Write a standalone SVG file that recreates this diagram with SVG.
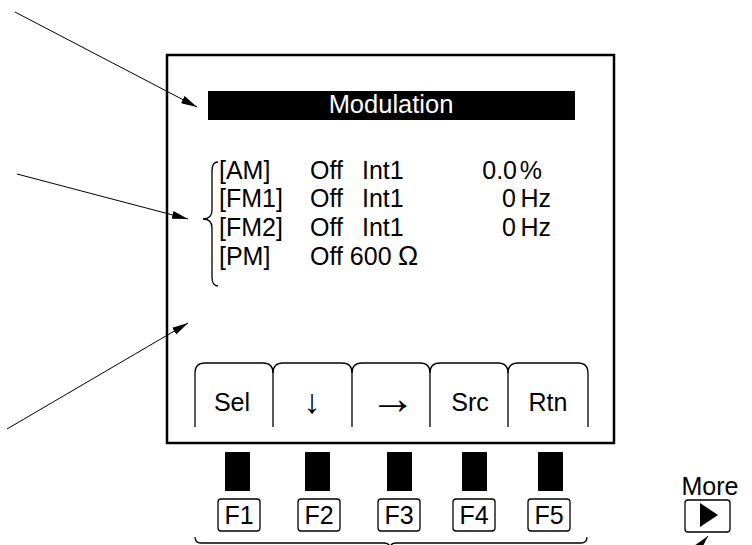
<svg xmlns="http://www.w3.org/2000/svg" width="752" height="545" viewBox="0 0 752 545">
<defs>
<style>
.t{font-family:"Liberation Sans","DejaVu Sans",Arial,sans-serif;font-size:25px;fill:#000}
.frame{fill:none;stroke:#000;stroke-width:2.5}
.ln{fill:none;stroke:#000;stroke-width:1.3}
.thin{fill:none;stroke:#000;stroke-width:1}
.key{fill:#fff;stroke:#000;stroke-width:1.3}
</style>
<marker id="ah" viewBox="0 0 16 8" refX="16" refY="4" markerWidth="16" markerHeight="8" markerUnits="userSpaceOnUse" orient="auto">
<path d="M0,0 L16,4 L0,8 Z" fill="#000"/>
</marker>
</defs>
<rect width="752" height="545" fill="#fff"/>

<g id="screen">
<rect class="frame" x="167" y="55" width="447" height="388"/>
</g>

<g id="title">
<rect x="208" y="91" width="367" height="29" fill="#000"/>
<text class="t" x="391" y="113" text-anchor="middle" style="fill:#fff;font-size:25.5px">Modulation</text>
</g>

<g id="params">
<path class="ln" d="M218,162 Q212,162 212,171 L212,210 Q212,219 203,219 Q212,219 212,228 L212,277 Q212,286 218,286"/>
<text class="t" x="219" y="179">[AM]</text>
<text class="t" x="310" y="179">Off</text>
<text class="t" x="362" y="179">Int1</text>
<text class="t" x="517" y="179" text-anchor="end">0.0</text>
<text class="t" x="542" y="179" text-anchor="end">%</text>
<text class="t" x="219" y="207">[FM1]</text>
<text class="t" x="310" y="207">Off</text>
<text class="t" x="362" y="207">Int1</text>
<text class="t" x="516" y="207" text-anchor="end">0</text>
<text class="t" x="551" y="207" text-anchor="end">Hz</text>
<text class="t" x="219" y="236">[FM2]</text>
<text class="t" x="310" y="236">Off</text>
<text class="t" x="362" y="236">Int1</text>
<text class="t" x="516" y="236" text-anchor="end">0</text>
<text class="t" x="551" y="236" text-anchor="end">Hz</text>
<text class="t" x="219" y="265">[PM]</text>
<text class="t" x="310" y="265">Off 600</text>
<text class="t" x="398" y="265" style="font-size:27px">Ω</text>
</g>

<g id="softkeys">
<path class="ln" d="M195,427 L195,373 Q195,363 205,363 L263,363 Q273,363 273,373 L273,427"/>
<path class="ln" d="M273,373 Q273,363 283,363 L342,363 Q352,363 352,373 L352,427"/>
<path class="ln" d="M352,373 Q352,363 362,363 L420,363 Q430,363 430,373 L430,427"/>
<path class="ln" d="M430,373 Q430,363 440,363 L498,363 Q508,363 508,373 L508,427"/>
<path class="ln" d="M508,373 Q508,363 518,363 L578,363 Q588,363 588,373 L588,427"/>
<text class="t" x="232" y="411" text-anchor="middle">Sel</text>
<text class="t" x="312" y="413" text-anchor="middle" style="font-size:34px">↓</text>
<text class="t" x="393" y="414" text-anchor="middle" style="font-size:46px">→</text>
<text class="t" x="470" y="411" text-anchor="middle">Src</text>
<text class="t" x="548" y="411" text-anchor="middle">Rtn</text>
</g>

<g id="fkeys">
<rect x="225" y="452" width="25" height="39" fill="#000"/>
<rect x="305" y="452" width="25" height="39" fill="#000"/>
<rect x="387" y="452" width="25" height="39" fill="#000"/>
<rect x="462" y="452" width="25" height="39" fill="#000"/>
<rect x="538" y="452" width="25" height="39" fill="#000"/>
<rect class="key" x="218" y="499" width="42" height="32" rx="3"/>
<rect class="key" x="298" y="499" width="42" height="32" rx="3"/>
<rect class="key" x="378" y="499" width="42" height="32" rx="3"/>
<rect class="key" x="453" y="499" width="42" height="32" rx="3"/>
<rect class="key" x="528" y="499" width="42" height="32" rx="3"/>
<text class="t" x="239" y="524" text-anchor="middle">F1</text>
<text class="t" x="319" y="524" text-anchor="middle">F2</text>
<text class="t" x="399" y="524" text-anchor="middle">F3</text>
<text class="t" x="474" y="524" text-anchor="middle">F4</text>
<text class="t" x="549" y="524" text-anchor="middle">F5</text>
</g>

<g id="more">
<text class="t" x="710" y="495" text-anchor="middle">More</text>
<rect class="key" x="685" y="500" width="45" height="32" rx="3"/>
<path d="M700,503 L700,527 L718,515 Z" fill="#000"/>
</g>

<g id="connectors">
<line class="thin" x1="15" y1="12" x2="197" y2="107" marker-end="url(#ah)"/>
<line class="thin" x1="17" y1="174" x2="188" y2="219" marker-end="url(#ah)"/>
<line class="thin" x1="7" y1="429" x2="188" y2="323" marker-end="url(#ah)"/>
<line class="thin" x1="696" y1="550" x2="708" y2="536" marker-end="url(#ah)"/>
<path class="ln" d="M195,537 Q195,543 201,543 L384,543 Q390,543 390,549 Q390,543 396,543 L581,543 Q587,543 587,537"/>
</g>
</svg>
